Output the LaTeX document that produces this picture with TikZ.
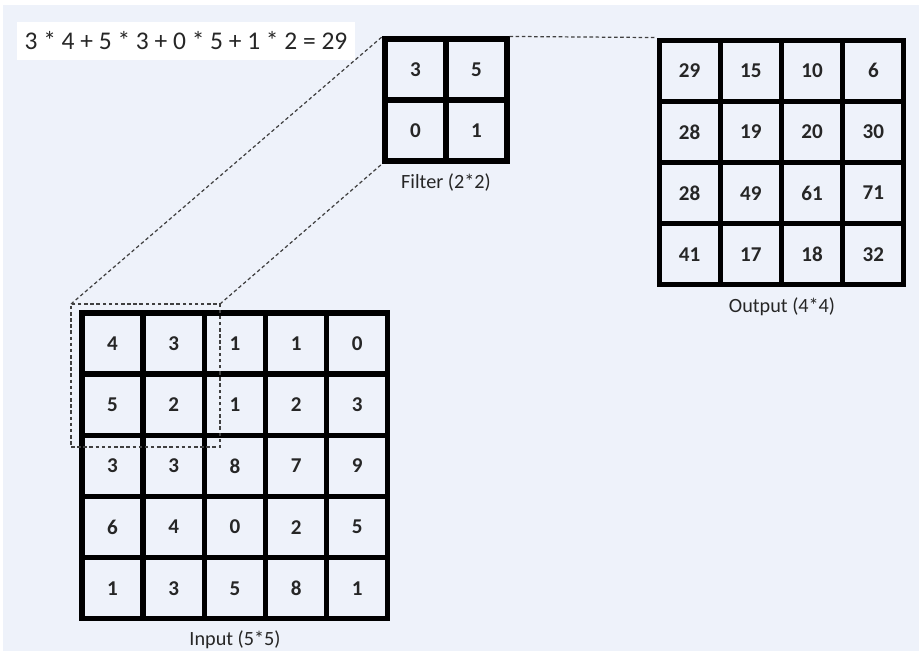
\documentclass[tikz,border=0pt]{standalone}
\usepackage{fontspec}
\setmainfont{Carlito}
\usetikzlibrary{positioning}
\definecolor{BackClr}{RGB}{238,242,250}
\definecolor{TextClr}{RGB}{38,38,38}

\tikzset{
  cell/.style={draw=black,line width=2.9pt,minimum size=1.22cm,inner sep=0pt,
    font=\fontsize{12}{14}\selectfont\bfseries,text=TextClr},
  caption/.style={font=\fontsize{11.5}{13}\selectfont,text=TextClr},
  guide/.style={dashed,line width=.7pt,dash pattern=on 2pt off 1.5pt,black!75}
}

\begin{document}
\begin{tikzpicture}[x=0.02cm,y=-0.02cm]
% page and background
\fill[white] (0,0) rectangle (919,651);
\fill[BackClr] (3,5) rectangle (919,651);
\useasboundingbox (0,0) rectangle (919,651);

% the sum for the first window
\node[fill=white,minimum width=6.76cm,minimum height=0.76cm,inner sep=0pt,
  font=\fontsize{14.5}{16}\selectfont,text=TextClr] (sum) at (186,41) {3 * 4 + 5 * 3 + 0 * 5 + 1 * 2 = 29};

% input 5*5
\foreach \row [count=\i] in {{4,3,1,1,0},{5,2,1,2,3},{3,3,8,7,9},{6,4,0,2,5},{1,3,5,8,1}}
  \foreach \v [count=\j] in \row
    \node[cell] (in-\i-\j) at ({112.5+61.2*(\j-1)},{343.5+61.2*(\i-1)}) {\v};
\node[caption] (inlabel) at (235,640) {Input (5*5)};

% filter 2*2
\foreach \row [count=\i] in {{3,5},{0,1}}
  \foreach \v [count=\j] in \row
    \node[cell] (f-\i-\j) at ({415.5+61*(\j-1)},{69.5+61*(\i-1)}) {\v};
\node[caption] (flabel) at (446,183) {Filter (2*2)};

% output 4*4
\foreach \row [count=\i] in {{29,15,10,6},{28,19,20,30},{28,49,61,71},{41,17,18,32}}
  \foreach \v [count=\j] in \row
    \node[cell] (out-\i-\j) at ({689.6+61.25*(\j-1)},{70.6+61.25*(\i-1)}) {\v};
\node[caption] (outlabel) at (782,307) {Output (4*4)};

% window over the input and its guide lines
\node[guide,draw,minimum width=2.98cm,minimum height=2.86cm,inner sep=0pt,outer sep=0pt] (win) at (145.5,375.5) {};
\draw[guide] (win.north west) -- (f-1-1.north west);
\draw[guide] (win.north east) -- (f-2-1.south west);
\draw[guide] (f-1-2.north east) -- (out-1-1.north west);

\end{tikzpicture}
\end{document}
